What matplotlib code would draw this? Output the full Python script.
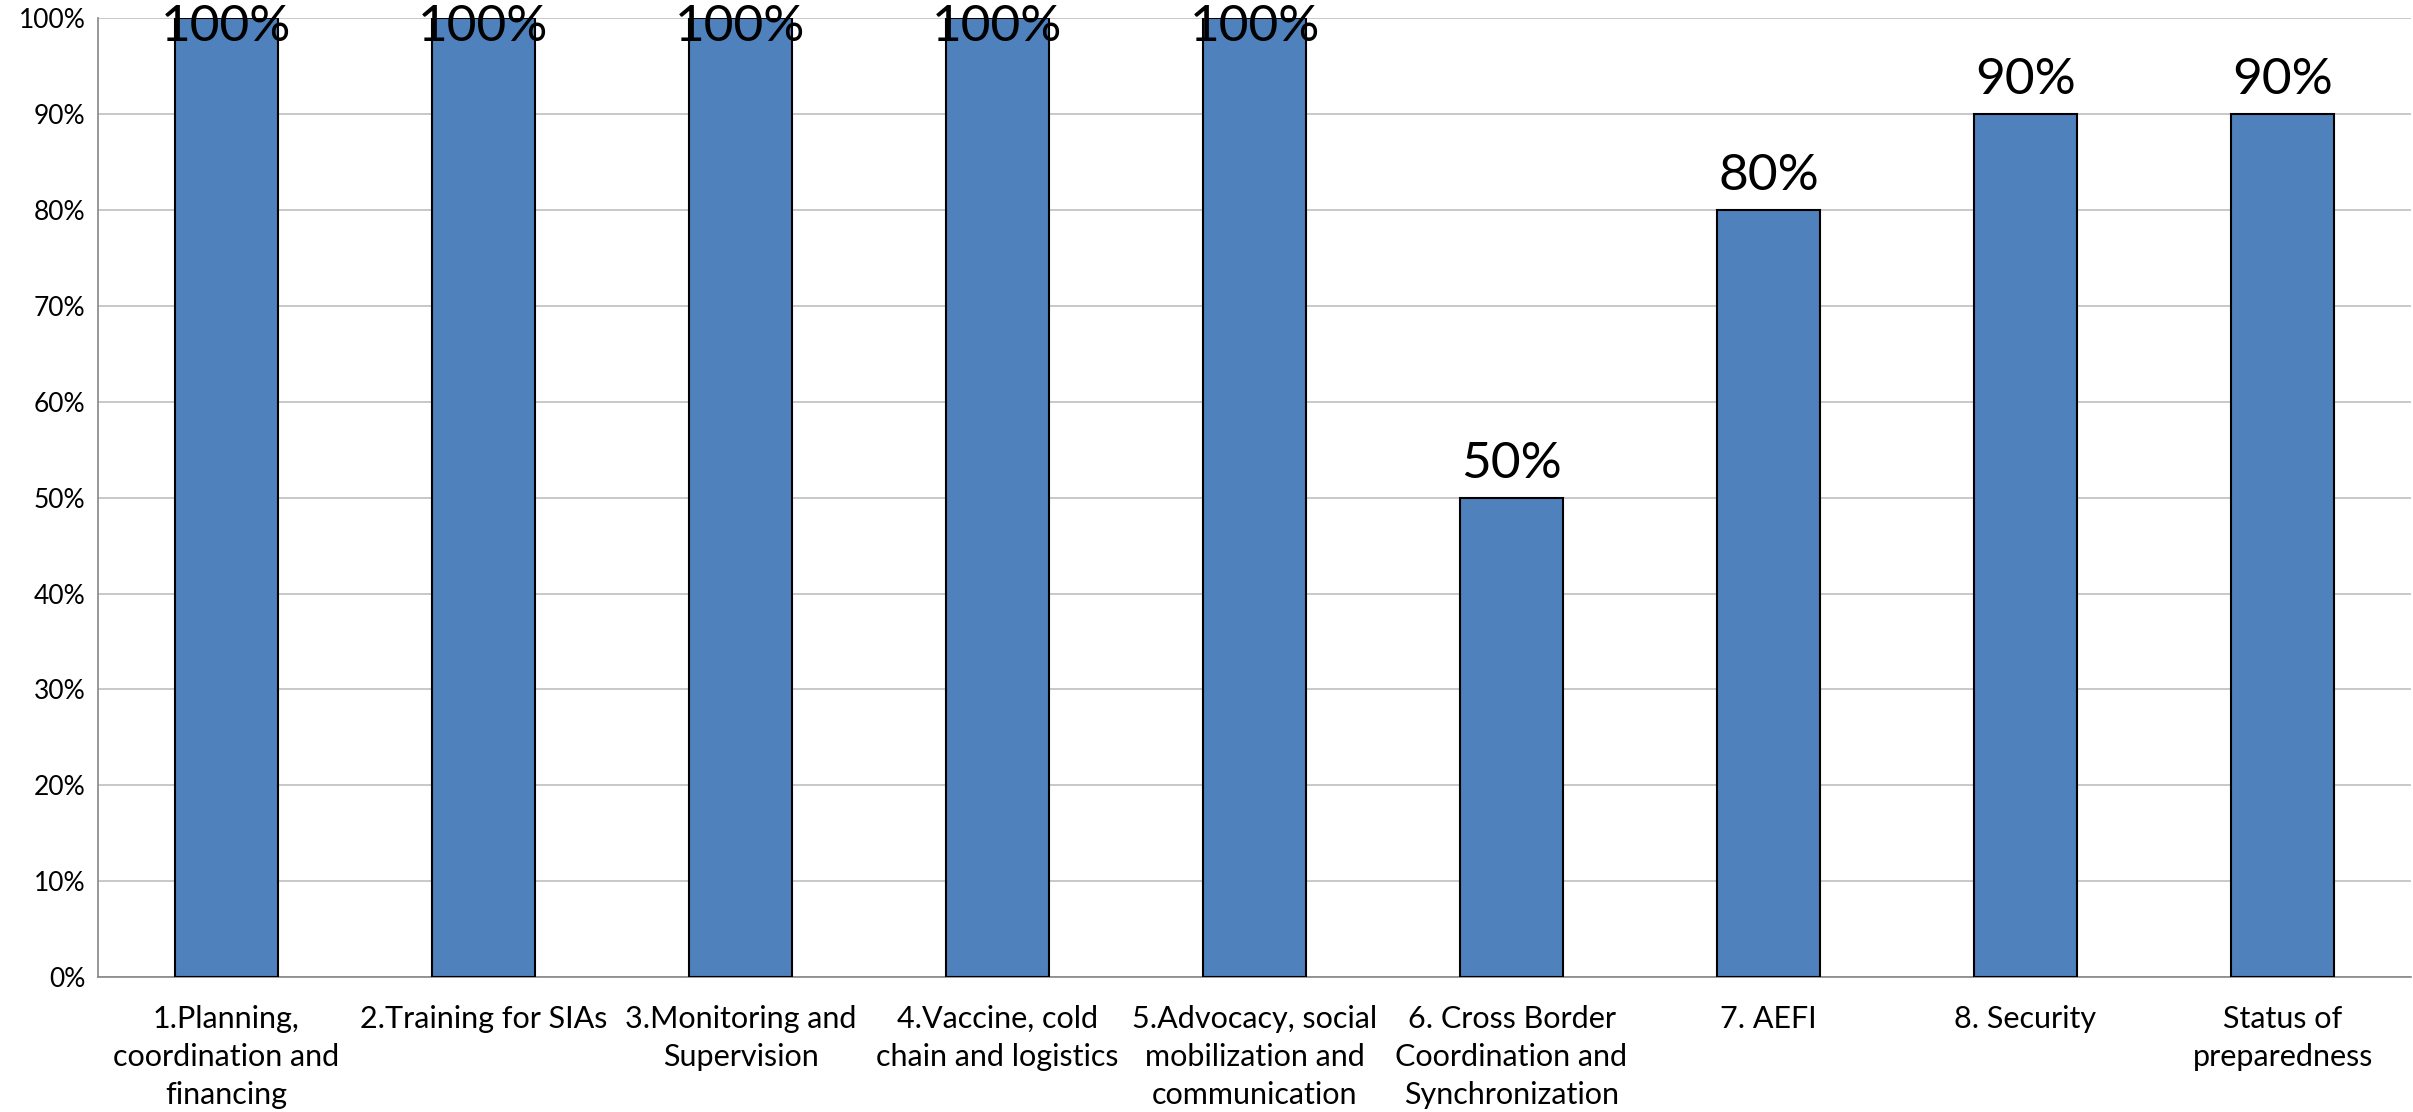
import numpy as np
import matplotlib.pyplot as plt
from matplotlib.ticker import FuncFormatter

categories = [
    "1.Planning,\ncoordination and\nfinancing",
    "2.Training for SIAs",
    "3.Monitoring and\nSupervision",
    "4.Vaccine, cold\nchain and logistics",
    "5.Advocacy, social\nmobilization and\ncommunication",
    "6. Cross Border\nCoordination and\nSynchronization",
    "7. AEFI",
    "8. Security",
    "Status of\npreparedness",
]
values = [100, 100, 100, 100, 100, 50, 80, 90, 90]
yticks = [0, 10, 20, 30, 40, 50, 60, 70, 80, 90, 100]

plt.rcParams['font.family'] = ['Lato', 'DejaVu Sans']

fig = plt.figure(figsize=(24.13, 11.12), dpi=100)
ax = fig.add_axes([0.0406, 0.1214, 0.9586, 0.862])

x = np.arange(len(categories))
ax.bar(x, values, width=0.4, color='#4F81BD', edgecolor='black', linewidth=1.5, zorder=3)

for xi, v in zip(x, values):
    ax.text(xi, min(v + 2.1, 97.6), f"{v}%", ha='center', va='baseline',
            fontsize=37, zorder=4)

ax.set_xlim(-0.5, len(categories) - 0.5)
ax.set_ylim(0, 100)
ax.set_yticks(yticks)
ax.yaxis.set_major_formatter(FuncFormatter(lambda v, p: f"{int(v)}%"))
ax.set_xticks(x)
ax.set_xticklabels(categories, fontsize=22, linespacing=1.45, va='top')
ax.tick_params(axis='y', length=0, pad=9, labelsize=19)
ax.tick_params(axis='x', length=0, pad=20)

ax.grid(axis='y', color='#BFBFBF', linewidth=1.2, zorder=0)
for s in ['top', 'right']:
    ax.spines[s].set_visible(False)
for s in ['left', 'bottom']:
    ax.spines[s].set_color('#868686')
    ax.spines[s].set_linewidth(1.2)

plt.savefig('out.png', dpi=100)
